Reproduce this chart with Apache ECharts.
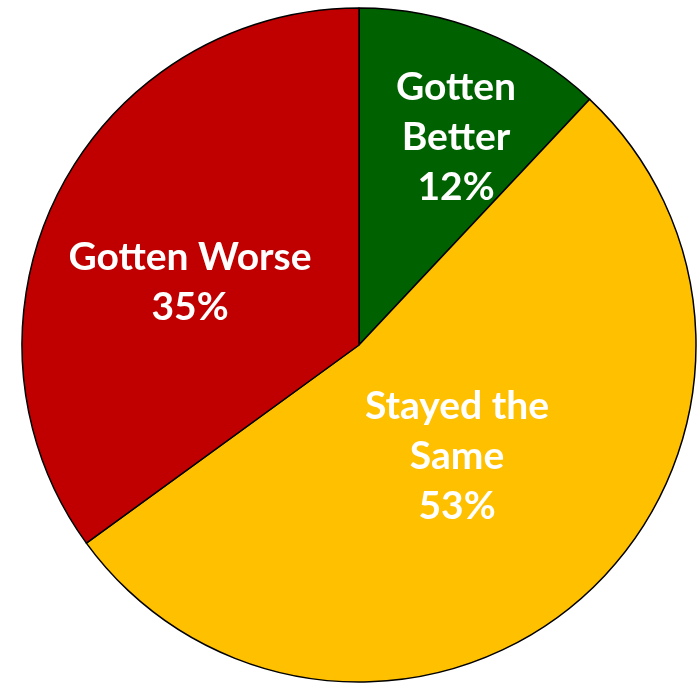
<!DOCTYPE html>
<html>
<head>
<meta charset="utf-8">
<script src="https://cdn.jsdelivr.net/npm/echarts@6/dist/echarts.min.js"></script>
<style>
html,body{margin:0;padding:0;background:#fff;}
#main{width:699px;height:683px;}
</style>
</head>
<body>
<div id="main"></div>
<script>
const categories = ["Gotten Better", "Stayed the Same", "Gotten Worse"];
const values = [12, 53, 35];
const labelTexts = ["Gotten\nBetter\n12%", "Stayed the\nSame\n53%", "Gotten Worse\n35%"];
const colors = ["#006100", "#FFC000", "#C00000"];
// label anchor points mimicking Excel best-fit placement
const labelPos = [[456, 137], [457, 456], [190, 282]];

const chart = echarts.init(document.getElementById('main'));
chart.setOption({
  animation: false,
  series: [{
    type: 'pie',
    center: [359, 345],
    radius: 337,
    startAngle: 90,
    clockwise: true,
    data: categories.map((c, i) => ({
      name: c,
      value: values[i],
      itemStyle: { color: colors[i] }
    })),
    itemStyle: { borderColor: '#000', borderWidth: 1.5 },
    label: {
      show: true,
      position: 'inside',
      formatter: p => labelTexts[p.dataIndex],
      color: '#fff',
      fontFamily: 'Lato',
      fontWeight: 'bold',
      fontSize: 39,
      lineHeight: 50,
      align: 'center'
    },
    labelLayout: p => ({ x: labelPos[p.dataIndex][0], y: labelPos[p.dataIndex][1], align: 'center', verticalAlign: 'middle' }),
    labelLine: { show: false },
    emphasis: { disabled: true }
  }]
});
</script>
</body>
</html>
